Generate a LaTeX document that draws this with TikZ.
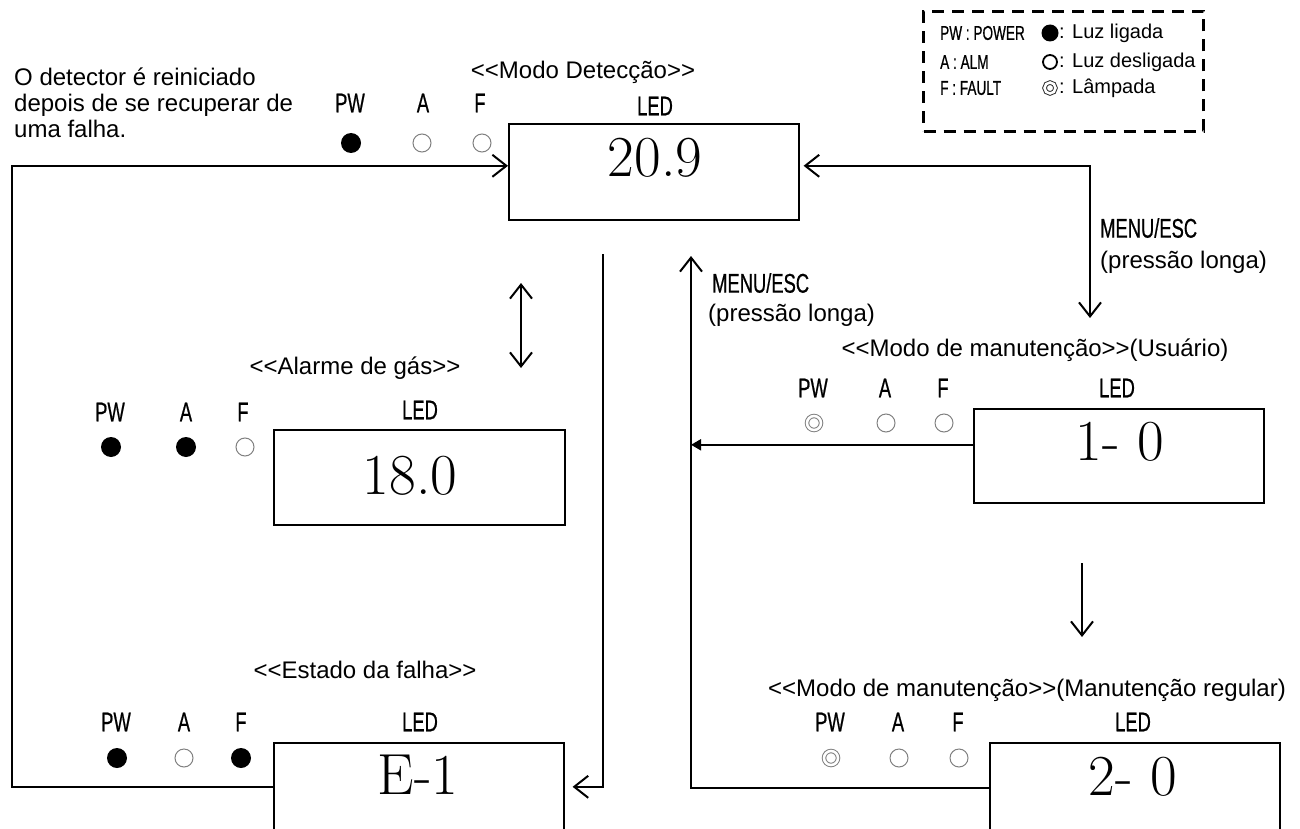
\documentclass[tikz,border=0pt]{standalone}
\usepackage{fontspec}
\newfontfamily\arialfont{Liberation Sans}
\newfontfamily\narrowfont[FakeStretch=0.68,FakeBold=0.6]{Liberation Sans}
\usetikzlibrary{arrows.meta}

\tikzset{
  txt/.style={font=\arialfont\fontsize{24}{26}\selectfont, inner sep=0pt},
  legtxt/.style={font=\arialfont\fontsize{20}{22}\selectfont, inner sep=0pt},
  tag/.style={font=\narrowfont\fontsize{27}{29}\selectfont, inner sep=0pt},
  legtag/.style={font=\narrowfont\fontsize{20}{22}\selectfont, inner sep=0pt},
  digits/.style={font=\fontsize{58}{60}\selectfont, inner sep=0pt},
  ledbox/.style={draw, line width=1.6pt, inner sep=0pt, anchor=north west, minimum width=290pt},
  lampon/.style={circle, fill=black, minimum size=20pt, inner sep=0pt},
  lampoff/.style={circle, draw=gray, line width=1pt, minimum size=18pt, inner sep=0pt},
  lampblink/.style={circle, draw=gray, double, double distance=2.5pt, line width=1pt, minimum size=14pt, inner sep=0pt},
  conn/.style={line width=2pt},
  arr/.style={conn, -{Straight Barb[length=14pt,width=22pt]}},
  dblarr/.style={conn, {Straight Barb[length=14pt,width=22pt]}-{Straight Barb[length=14pt,width=22pt]}},
}

\begin{document}
\begin{tikzpicture}[x=1pt,y=-1pt]
        \clip (0,0) rectangle (1300,829);

        \node[draw, line width=3pt, dash pattern=on 12pt off 8pt, minimum width=280pt, minimum height=120pt, anchor=north west] (legend) at (922,10) {};
        \node[legtag, anchor=west] (legPW) at (940,33) {PW : POWER};
        \node[legtag, anchor=west] (legA) at (940,62) {A : ALM};
        \node[legtag, anchor=west] (legF) at (940,88) {F : FAULT};
        \node[lampon, minimum size=17pt] (symOn) at (1050,33) {};
        \node[circle, draw, line width=1.8pt, minimum size=14pt] (symOff) at (1050,62) {};
        \node[lampblink, draw=black!80, minimum size=11pt] (symBlink) at (1050,88) {};
        \node[legtxt, anchor=west] (legOn) at (1059,33) {: Luz ligada};
        \node[legtxt, anchor=west] (legOff) at (1059,62) {: Luz desligada};
        \node[legtxt, anchor=west] (legBlink) at (1059,88) {: Lâmpada};

        \node[txt, anchor=north west, align=left] (note) at (14,68) {O detector é reiniciado\\depois de se recuperar de\\uma falha.};

        \node[txt] (titleD) at (583,72) {<<Modo Detecção>>};
        \node[tag] (pwD) at (350,103) {PW};
        \node[tag] (aD) at (423,103) {A};
        \node[tag] (fD) at (480,103) {F};
        \node[tag] (ledD) at (655,106) {LED};
        \node[lampon] (lpwD) at (351,143) {};
        \node[lampoff] (laD) at (422,143) {};
        \node[lampoff] (lfD) at (482,143) {};
        \node[ledbox, minimum height=96pt] (boxD) at (508,123) {};
        \node[digits] (valD) at (655,158) {20.9};

        \node[txt] (titleA) at (355,368) {<<Alarme de gás>>};
        \node[tag] (pwA) at (110,412) {PW};
        \node[tag] (aA) at (186,412) {A};
        \node[tag] (fA) at (243,412) {F};
        \node[tag] (ledA) at (420,410) {LED};
        \node[lampon] (lpwA) at (111,447) {};
        \node[lampon] (laA) at (186,447) {};
        \node[lampoff] (lfA) at (245,447) {};
        \node[ledbox, minimum width=291pt, minimum height=95pt] (boxA) at (273,429) {};
        \node[digits] (valA) at (410,476) {18.0};

        \node[txt] (titleE) at (365,670) {<<Estado da falha>>};
        \node[tag] (pwE) at (116,722) {PW};
        \node[tag] (aE) at (184,722) {A};
        \node[tag] (fE) at (241,722) {F};
        \node[tag] (ledE) at (420,722) {LED};
        \node[lampon] (lpwE) at (117,758) {};
        \node[lampoff] (laE) at (184,758) {};
        \node[lampon] (lfE) at (241,758) {};
        \node[ledbox, minimum height=88pt] (boxE) at (273,742) {};
        \node[digits] (valE) at (418,775) {E-1};

        \node[txt] (titleU) at (1035,350) {<<Modo de manutenção>>(Usuário)};
        \node[tag] (pwU) at (813,388) {PW};
        \node[tag] (aU) at (885,388) {A};
        \node[tag] (fU) at (943,388) {F};
        \node[tag] (ledU) at (1117,388) {LED};
        \node[lampblink] (lpwU) at (814,423) {};
        \node[lampoff] (laU) at (886,423) {};
        \node[lampoff] (lfU) at (944,423) {};
        \node[ledbox, minimum height=94pt] (boxU) at (973,408) {};
        \node[digits] (valU) at (1120,442) {1- 0};

        \node[txt] (titleR) at (1027,690) {<<Modo de manutenção>>(Manutenção regular)};
        \node[tag] (pwR) at (830,722) {PW};
        \node[tag] (aR) at (898,722) {A};
        \node[tag] (fR) at (958,722) {F};
        \node[tag] (ledR) at (1133,722) {LED};
        \node[lampblink] (lpwR) at (831,758) {};
        \node[lampoff] (laR) at (899,758) {};
        \node[lampoff] (lfR) at (959,758) {};
        \node[ledbox, minimum height=90pt] (boxR) at (989,742) {};
        \node[digits] (valR) at (1133,777) {2- 0};

        \node[tag, anchor=west] (menuRtxt) at (1100,228) {MENU/ESC};
        \node[txt, anchor=west] (longRtxt) at (1100,262) {(pressão longa)};
        \node[tag, anchor=west] (menuLtxt) at (712,283) {MENU/ESC};
        \node[txt, anchor=west] (longLtxt) at (708,315) {(pressão longa)};

        \coordinate (backL) at (12,170);
        \coordinate (menuR) at (1090,318);
        \coordinate (menuL) at (691,256);
        \coordinate (faultTop) at (603,254);
        \coordinate (dblA) at (521,283);
        \coordinate (dblB) at (521,368);
        \coordinate (downA) at (1082,563);
        \coordinate (downB) at (1082,637);

        \draw[arr] (boxE.west) -- (boxE.west -| backL) |- ([yshift=6pt]boxD.west);
        \draw[dblarr, shorten <=4pt] ([yshift=6pt]boxD.east) -| (menuR);
        \draw[arr] (boxR.west) -| (menuL);
        \draw[conn, -{Triangle[length=10pt,width=11pt]}] ([yshift=11pt]boxU.west) -- ([yshift=11pt]boxU.west -| menuL);
        \draw[arr, shorten >=8pt] (faultTop) |- (boxE.east);
        \draw[dblarr] (dblA) -- (dblB);
        \draw[arr] (downA) -- (downB);
    \end{tikzpicture}
\end{document}
